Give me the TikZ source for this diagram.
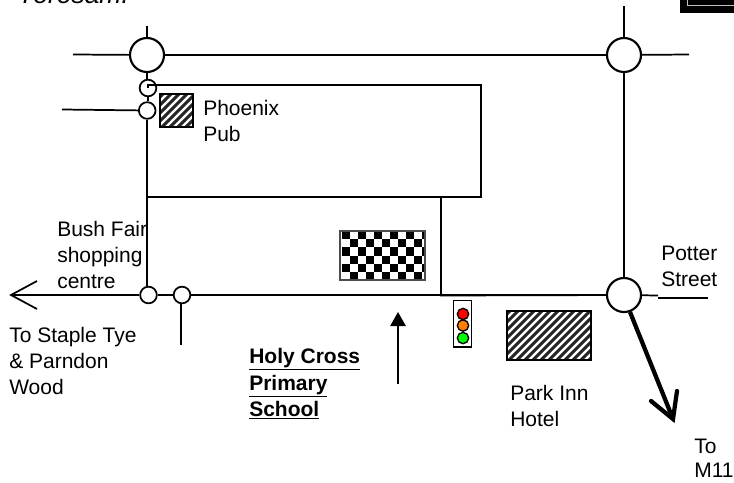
\documentclass[tikz,border=0pt]{standalone}
\usepackage{fontspec}
\setmainfont{Liberation Sans}
\usetikzlibrary{arrows.meta}
\tikzset{
  x=0.75pt,y=-0.75pt,
  road/.style={line width=1.3pt,black},
  bigj/.style={circle,draw=black,line width=1.6pt,fill=white,minimum size=25.5pt,inner sep=0pt},
  smallj/.style={circle,draw=black,line width=1.3pt,fill=white,minimum size=12.5pt,inner sep=0pt},
  lab/.style={anchor=north west,inner sep=0pt,align=left,font=\fontsize{15.75}{19.6}\selectfont},
  lamp/.style={circle,draw=black,line width=1pt,minimum size=8.5pt,inner sep=0pt},
}
\newcommand{\hatchbox}[4]{%
  \begin{scope}
    \clip (#1,#2) rectangle (#3,#4);
    \fill[white] (#1,#2) rectangle (#3,#4);
    \foreach \k in {0,8,...,200}{
      \draw[black!85,line width=2.3pt] ({#1+\k-80},#4+2) -- ({#1+\k-80+(#4-#2)+4},#2-2);
    }
  \end{scope}
  \draw[black,line width=1.3pt] (#1,#2) rectangle (#3,#4);
}
\begin{document}
\begin{tikzpicture}
\useasboundingbox (0,0) rectangle (734,482);
% clipped remnants at the page edges
\node[anchor=base west,inner sep=0pt,font=\fontsize{19.8}{24}\selectfont\itshape] (title) at (17,3) {Yorosam.};
\fill[black] (680,-1) rectangle (734,12.5);
\draw[white!75!black,line width=1.2pt] (687.5,-4) rectangle (740,5.5);
% junctions
\node[bigj] (NW) at (147,55) {};
\node[bigj] (NE) at (624,55) {};
\node[bigj] (SE) at (624,295) {};
\node[smallj] (S1) at (148,88) {};
\node[smallj] (S2) at (147.2,110.5) {};
\node[smallj] (S3) at (148.5,295) {};
\node[smallj] (S4) at (182,295) {};
% free ends
\coordinate (nwT) at (147,26);
\coordinate (nwL) at (73,54.5);
\coordinate (neT) at (624,6);
\coordinate (neR) at (689,54.5);
\coordinate (s2L) at (62,109.5);
\coordinate (s4B) at (181,345);
\coordinate (tipW) at (11,295);
\coordinate (seR) at (658,295.5);
\coordinate (rTR) at (481,85);
\coordinate (rBR) at (481,197);
\coordinate (rBL) at (147.2,197);
\coordinate (rBM) at (441,197);
\coordinate (rM) at (441,295.5);
% roads
\draw[road] (nwT) -- (NW);
\draw[road] (nwL) -- (NW);
\draw[road] (NW) -- (NE);
\draw[road] (neT) -- (NE);
\draw[road] (NE) -- (neR);
\draw[road] (NE) -- (SE);
\draw[road] (NW.south) -- (NW.south |- S1.north);
\draw[road] (S1.south) -- (S1.south |- S2.north);
\draw[road] (S2.south) -- (S2.south |- S3.110);
\draw[road] (s2L) -- (S2);
\draw[road] (S4.south) -- (S4.south -| s4B) -- (s4B);
\draw[road] (S3) -- (S4);
\draw[road] (S4) -- (SE);
\draw[road] (SE) -- (seR);
\draw[road] (S1.center) -- ++(0,-3) -- (rTR) -- (rBR) -- (rBL);
\draw[road] (rBM) -- (rM) -- (SE);
\draw[road] (S3) -- (tipW);
\draw[road,line join=miter] (37,281) -- (tipW) -- (37,309);
% Potter Street rule
\coordinate (psA) at (658,298);
\coordinate (psB) at (708,298);
\draw[black,line width=1pt] (psA) -- (psB);
% buildings
\hatchbox{160}{94}{193}{127}
\hatchbox{507}{311}{591}{360}
\begin{scope}
  \clip (340,231) rectangle (425,280);
  \fill[white] (340,231) rectangle (425,280);
  \foreach \r in {0,...,5}{
    \foreach \c in {0,...,10}{
      \pgfmathparse{int(mod(\r+\c,2))}
      \ifnum\pgfmathresult=0
        \fill[black] ({342+8*\c},{231+8.17*\r}) rectangle ++(8,8.17);
      \fi
    }
  }
\end{scope}
\draw[black!70,line width=0.9pt] (340,231) rectangle (425,280);
% traffic light
\node[draw=black,line width=1pt,fill=white,minimum width=13.5pt,minimum height=35pt,inner sep=0pt] (TL) at (462.5,323.5) {};
\node[lamp,fill=red] (L1) at (463,314) {};
\node[lamp,fill=orange] (L2) at (463,325.5) {};
\node[lamp,fill=green] (L3) at (463,338) {};
% arrows
\coordinate (upA) at (398,384);
\coordinate (upB) at (398,312);
\draw[road,-{Triangle[length=10.5pt,width=11.5pt]}] (upA) -- (upB);
\coordinate (m1) at (630,312);
\coordinate (m2) at (673,419);
\draw[black,line width=3.2pt] (m1) -- (m2);
\draw[black,line width=3.2pt,line cap=round,line join=miter] (651,401) -- (m2) -- (677,391);
% labels
\node[lab] (phoenix) at (203,100) {Phoenix\\Pub};
\node[lab] (bush) at (57,221) {Bush Fair\\shopping\\centre};
\node[lab] (staple) at (9,327) {To Staple Tye\\\& Parndon\\Wood};
\node[lab,font=\fontsize{15.75}{19.9}\selectfont\bfseries] (school) at (249,348) {\underline{Holy Cross}\\\underline{Primary}\\\underline{School}};
\node[lab] (potter) at (661,246) {Potter\\Street};
\node[lab] (park) at (510,385) {Park Inn\\Hotel};
\node[lab,font=\fontsize{15.75}{17.6}\selectfont] (m11) at (694,439) {To\\M11};
\end{tikzpicture}
\end{document}
